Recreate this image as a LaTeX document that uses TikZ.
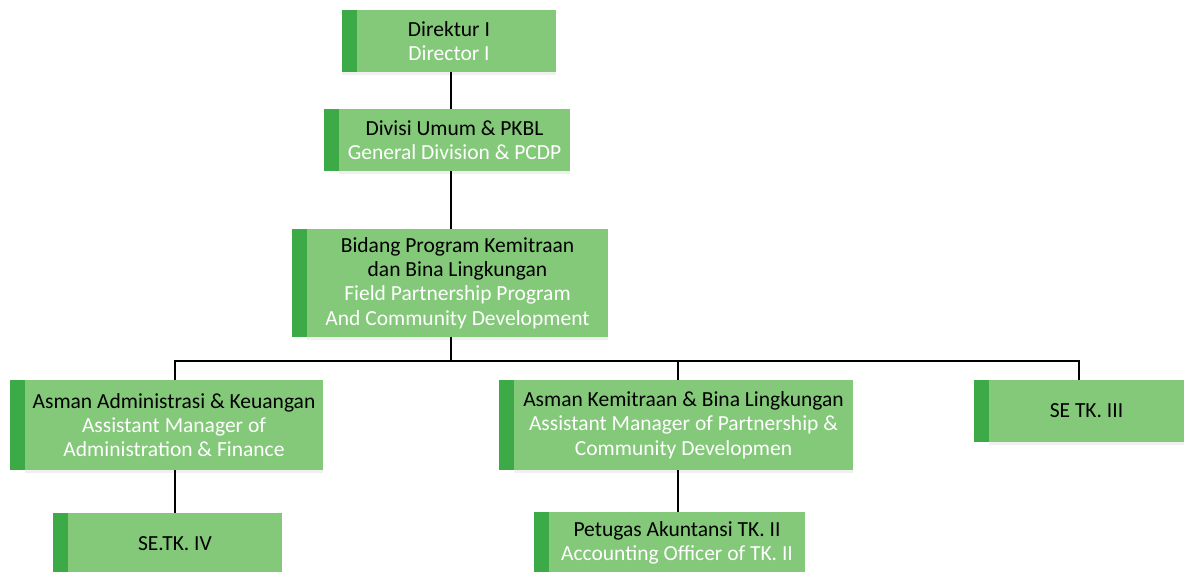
\documentclass[tikz,border=0pt]{standalone}
\usepackage{fontspec}
\setmainfont{Carlito}
\usetikzlibrary{shadows}
\definecolor{boxgreen}{HTML}{84C87A}
\definecolor{bargreen}{HTML}{3DAA48}
\begin{document}
\begin{tikzpicture}[x=1pt,y=-1pt,
  unit/.style={fill=boxgreen,inner sep=0pt,align=center,font=\fontsize{21.5}{24.3}\selectfont,
    drop shadow={opacity=0.12,shadow xshift=0pt,shadow yshift=-3pt}},
  link/.style={line width=2.6pt,black}]
\useasboundingbox (0,0) rectangle (1184,571);
\node[unit,minimum width=214pt,minimum height=62pt] (dir) at (449,41) {Direktur I\\\color{white}Director I};
\node[unit,minimum width=231pt,minimum height=62pt] (div) at (454.5,140) {Divisi Umum \& PKBL\\\color{white}General Division \& PCDP};
\node[unit,minimum width=301pt,minimum height=108pt] (bid) at (457.5,283) {Bidang Program Kemitraan\\dan Bina Lingkungan\\\color{white}Field Partnership Program\\\color{white}And Community Development};
\node[unit,minimum width=298pt,minimum height=90pt] (adm) at (174,425) {Asman Administrasi \& Keuangan\\\color{white}Assistant Manager of\\\color{white}Administration \& Finance};
\node[unit,minimum width=339pt,minimum height=90pt] (kem) at (683.5,425) {Asman Kemitraan \& Bina Lingkungan\\\color{white}Assistant Manager of Partnership \&\\\color{white}Community Developmen};
\node[unit,minimum width=195pt,minimum height=62pt] (se3) at (1086.5,411) {SE TK. III};
\node[unit,minimum width=214pt,minimum height=62pt] (se4) at (175,544) {SE.TK. IV};
\node[unit,minimum width=256pt,minimum height=62pt] (pet) at (677,543) {Petugas Akuntansi TK. II\\\color{white}Accounting Officer of TK. II};
\foreach \n in {div,bid,adm,kem,se3,se4,pet}
  \fill[bargreen] (\n.north west) rectangle ([xshift=-15pt]\n.south west);
\fill[bargreen] (dir.north west) rectangle ([xshift=15pt]dir.south west);
\coordinate (hub) at (451,361);
\coordinate (hl) at (175,361);
\coordinate (hm) at (678,361);
\coordinate (hr) at (1079,361);
\draw[link] (dir.south -| hub)--(div.north -| hub);
\draw[link] (div.south -| hub)--(bid.north -| hub);
\draw[link] (bid.south -| hub)--(hub);
\draw[link] ([xshift=-1.3pt]hl)--([xshift=1.3pt]hr);
\draw[link] (hl)--(adm.north -| hl);
\draw[link] (hm)--(kem.north -| hm);
\draw[link] (hr)--(se3.north -| hr);
\draw[link] (adm.south -| hl)--(se4.north -| hl);
\draw[link] (kem.south -| hm)--(pet.north -| hm);
\end{tikzpicture}
\end{document}
